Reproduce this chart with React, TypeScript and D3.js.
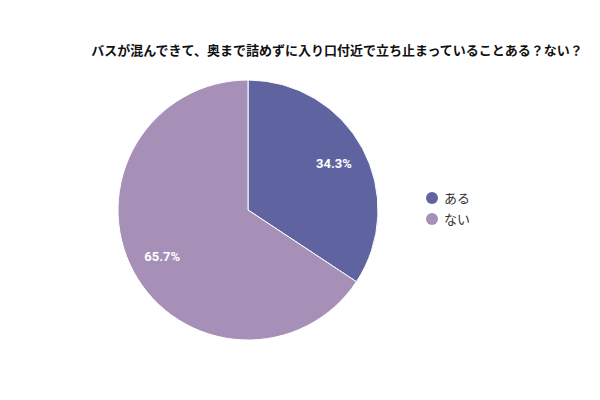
import React from "react";
import * as d3 from "d3";

const title = "バスが混んできて、奥まで詰めずに入り口付近で立ち止まっていることある？ない？";
const categories = ["ある", "ない"];
const values = [34.3, 65.7];
const colors = ["#5f64a0", "#a690b8"];

export default function App() {
  const width = 600;
  const height = 400;
  const cx = 248;
  const cy = 210;
  const r = 130;
  const pie = d3.pie<number>().sort(null).value((d) => d)(values);
  const arc = d3.arc<d3.PieArcDatum<number>>().innerRadius(0).outerRadius(r);
  const labelArc = d3.arc<d3.PieArcDatum<number>>().innerRadius(r * 0.75).outerRadius(r * 0.75);
  return (
    <svg width={width} height={height} style={{ position: "absolute", left: 0, top: 0, background: "#fff" }}>
      <text x={337} y={55} textAnchor="middle" fontFamily="'Noto Sans CJK JP', sans-serif" fontWeight="bold" fontSize={13} fill="#111">
        {title}
      </text>
      <g transform={`translate(${cx},${cy})`}>
        {pie.map((p, i) => (
          <path key={i} d={arc(p) || ""} fill={colors[i]} stroke="#fff" strokeWidth={1} />
        ))}
        {pie.map((p, i) => {
          const [x, y] = labelArc.centroid(p);
          return (
            <text key={i} x={x} y={y} dy="0.35em" textAnchor="middle" fontFamily="Roboto, 'Noto Sans', sans-serif" fontWeight="bold" fontSize={13} fill="#fff">
              {values[i].toFixed(1)}%
            </text>
          );
        })}
      </g>
      <g fontFamily="'Noto Sans CJK JP', sans-serif" fontSize={13} fill="#333">
        {categories.map((c, i) => (
          <g key={c} transform={`translate(432,${198 + i * 21})`}>
            <circle r={6} fill={colors[i]} />
            <text x={12} dy="0.35em">{c}</text>
          </g>
        ))}
      </g>
    </svg>
  );
}
